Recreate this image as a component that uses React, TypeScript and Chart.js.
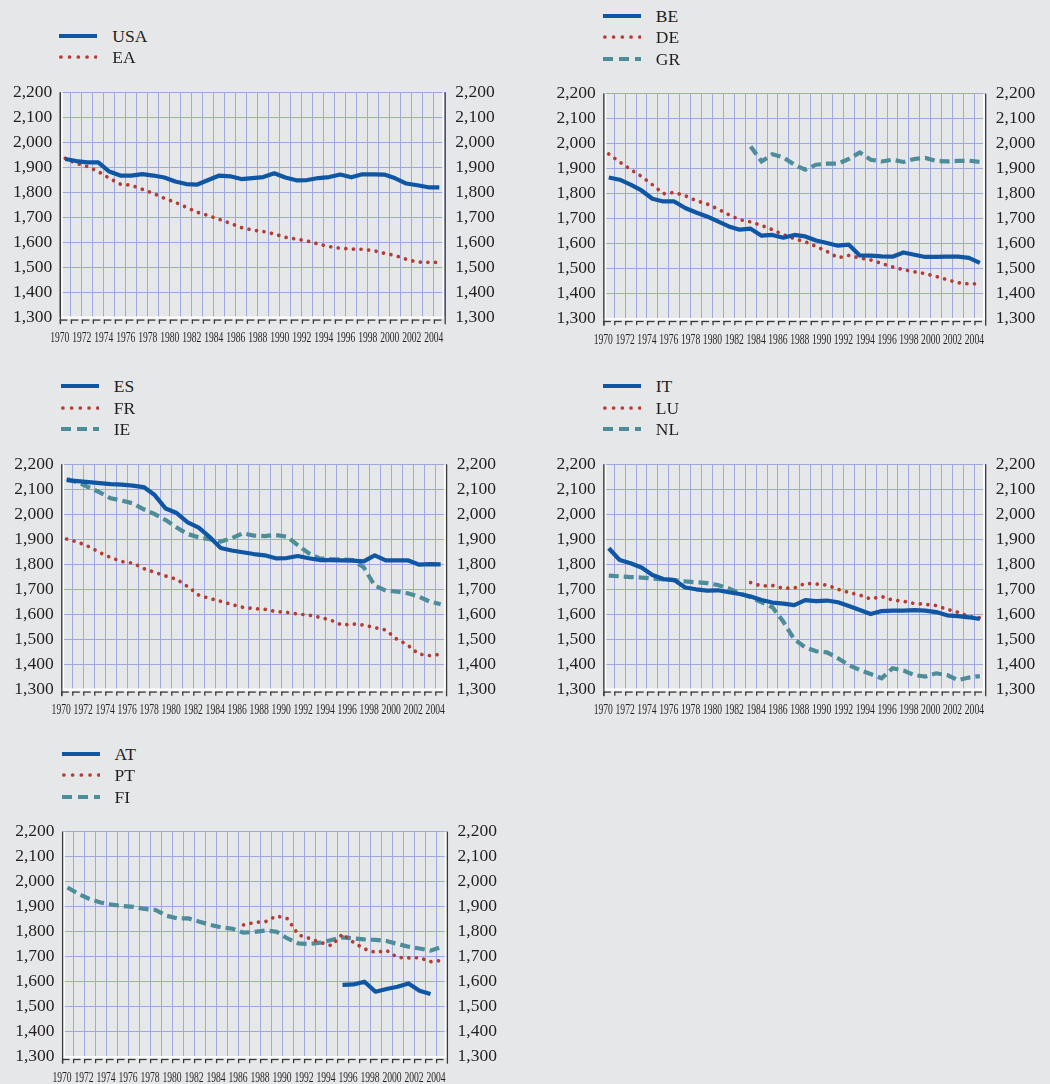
import React, { useEffect, useRef } from 'react';
import { Chart, registerables } from 'chart.js';

Chart.register(...registerables);

// ---------- data ----------
const YEARS = [
  '1970', '1971', '1972', '1973', '1974', '1975', '1976', '1977', '1978', '1979',
  '1980', '1981', '1982', '1983', '1984', '1985', '1986', '1987', '1988', '1989',
  '1990', '1991', '1992', '1993', '1994', '1995', '1996', '1997', '1998', '1999',
  '2000', '2001', '2002', '2003', '2004',
];
const X_TICK_LABELS = [
  '1970', '1972', '1974', '1976', '1978', '1980', '1982', '1984', '1986',
  '1988', '1990', '1992', '1994', '1996', '1998', '2000', '2002', '2004',
];
const Y_MIN = 1300;
const Y_MAX = 2200;
const Y_STEP = 100;

const USA = [1933, 1925, 1920, 1920, 1883, 1867, 1867, 1873, 1867, 1859, 1843, 1833, 1831, 1849, 1867, 1864, 1853, 1857, 1861, 1876, 1859, 1848, 1849, 1857, 1861, 1871, 1860, 1872, 1872, 1871, 1856, 1835, 1828, 1820, 1820];
const EA = [1936, 1916, 1903, 1883, 1856, 1833, 1828, 1812, 1796, 1776, 1760, 1740, 1720, 1707, 1692, 1676, 1659, 1649, 1643, 1633, 1620, 1613, 1605, 1593, 1583, 1576, 1573, 1572, 1567, 1556, 1547, 1532, 1521, 1520, 1520];

const BE = [1865, 1856, 1836, 1813, 1780, 1769, 1769, 1743, 1725, 1709, 1689, 1669, 1656, 1660, 1632, 1635, 1624, 1635, 1629, 1613, 1603, 1592, 1596, 1553, 1552, 1549, 1548, 1565, 1556, 1547, 1547, 1548, 1548, 1543, 1523];
const DE = [1959, 1927, 1897, 1869, 1836, 1800, 1805, 1792, 1772, 1759, 1739, 1716, 1696, 1687, 1673, 1656, 1636, 1620, 1608, 1589, 1569, 1544, 1553, 1543, 1535, 1521, 1507, 1496, 1488, 1480, 1469, 1456, 1444, 1439, 1440];
const GR = [null, null, null, null, null, null, null, null, null, null, null, null, null, 1989, 1929, 1958, 1945, 1916, 1896, 1916, 1920, 1920, 1939, 1965, 1936, 1929, 1936, 1927, 1939, 1943, 1931, 1929, 1931, 1932, 1927];

const ES = [2137, 2133, 2129, 2125, 2121, 2119, 2115, 2109, 2077, 2023, 2005, 1968, 1947, 1909, 1865, 1855, 1848, 1841, 1836, 1824, 1825, 1833, 1824, 1817, 1817, 1816, 1815, 1812, 1836, 1816, 1816, 1816, 1799, 1801, 1800];
const FR = [1901, 1889, 1871, 1847, 1827, 1811, 1805, 1783, 1768, 1753, 1740, 1711, 1677, 1663, 1652, 1639, 1628, 1623, 1620, 1611, 1608, 1601, 1597, 1588, 1577, 1557, 1561, 1557, 1547, 1537, 1501, 1477, 1441, 1435, 1440];
const IE = [2141, 2127, 2108, 2088, 2064, 2055, 2044, 2020, 2001, 1977, 1947, 1921, 1908, 1900, 1891, 1904, 1924, 1915, 1913, 1917, 1911, 1877, 1844, 1824, 1821, 1820, 1817, 1788, 1715, 1695, 1691, 1684, 1671, 1651, 1640];

const IT = [1864, 1817, 1804, 1787, 1757, 1741, 1737, 1707, 1700, 1695, 1696, 1688, 1681, 1671, 1657, 1647, 1643, 1637, 1657, 1653, 1655, 1648, 1633, 1617, 1601, 1613, 1615, 1615, 1617, 1615, 1609, 1596, 1593, 1588, 1581];
const LU = [null, null, null, null, null, null, null, null, null, null, null, null, null, 1727, 1713, 1715, 1704, 1705, 1724, 1721, 1717, 1700, 1687, 1677, 1661, 1671, 1657, 1652, 1643, 1640, 1635, 1620, 1608, 1591, 1586];
const NL = [1755, 1752, 1749, 1747, 1743, 1740, 1737, 1732, 1728, 1725, 1717, 1703, 1684, 1668, 1648, 1628, 1570, 1500, 1468, 1452, 1448, 1424, 1397, 1377, 1361, 1344, 1384, 1375, 1357, 1351, 1364, 1357, 1337, 1347, 1353];

const AT = [null, null, null, null, null, null, null, null, null, null, null, null, null, null, null, null, null, null, null, null, null, null, null, null, null, 1587, 1589, 1600, 1560, 1571, 1580, 1593, 1564, 1551, null];
const PT = [null, null, null, null, null, null, null, null, null, null, null, null, null, null, null, null, 1827, 1837, 1840, 1863, 1852, 1787, 1773, 1757, 1744, 1791, 1757, 1731, 1717, 1725, 1697, 1695, 1696, 1680, 1685];
const FI = [1977, 1951, 1931, 1917, 1908, 1903, 1899, 1891, 1887, 1864, 1853, 1853, 1840, 1827, 1817, 1812, 1796, 1799, 1805, 1800, 1773, 1753, 1751, 1756, 1767, 1777, 1773, 1769, 1767, 1763, 1751, 1740, 1733, 1724, 1739];

// ---------- styles ----------
const BG = '#e6e7e8';
const GRID = '#9ea9dd';
const TEXT = '#231f20';
const BLUE = '#0f56a4';
const RED = '#b33c36';
const TEAL = '#4d8d9a';
const FRAME = '#3a3a3a';
const FONT = '"Liberation Serif", "Times New Roman", serif';

type LineStyle = 'solid' | 'dot' | 'dash';
interface Series { label: string; data: (number | null)[]; style: LineStyle }
interface PanelDef {
  colLeft: number; plotLeft: number; plotRight: number; plotTop: number; plotBottom: number;
  series: Series[];
}

const PANELS: PanelDef[] = [
  { colLeft: 0, plotLeft: 59.8, plotRight: 444.8, plotTop: 92.3, plotBottom: 317.3,
    series: [{ label: 'USA', data: USA, style: 'solid' }, { label: 'EA', data: EA, style: 'dot' }] },
  { colLeft: 525, plotLeft: 603.3, plotRight: 985.3, plotTop: 93.7, plotBottom: 318.7,
    series: [{ label: 'BE', data: BE, style: 'solid' }, { label: 'DE', data: DE, style: 'dot' }, { label: 'GR', data: GR, style: 'dash' }] },
  { colLeft: 0, plotLeft: 61.2, plotRight: 446.2, plotTop: 464.3, plotBottom: 689.3,
    series: [{ label: 'ES', data: ES, style: 'solid' }, { label: 'FR', data: FR, style: 'dot' }, { label: 'IE', data: IE, style: 'dash' }] },
  { colLeft: 525, plotLeft: 603.3, plotRight: 985.3, plotTop: 464.3, plotBottom: 689.3,
    series: [{ label: 'IT', data: IT, style: 'solid' }, { label: 'LU', data: LU, style: 'dot' }, { label: 'NL', data: NL, style: 'dash' }] },
  { colLeft: 0, plotLeft: 62, plotRight: 447, plotTop: 831.7, plotBottom: 1056.7,
    series: [{ label: 'AT', data: AT, style: 'solid' }, { label: 'PT', data: PT, style: 'dot' }, { label: 'FI', data: FI, style: 'dash' }] },
];

function styleProps(s: LineStyle) {
  if (s === 'solid') return { borderColor: BLUE, borderWidth: 4.2, borderJoinStyle: 'round', borderCapStyle: 'butt' };
  if (s === 'dot') return { borderColor: RED, borderWidth: 3.7, borderDash: [0.01, 7.6], borderCapStyle: 'round' };
  return { borderColor: TEAL, borderWidth: 4.2, borderDash: [10, 5], borderCapStyle: 'butt' };
}

const framePlugin = {
  id: 'frame',
  beforeDatasetsDraw(chart: any) {
    const { ctx, chartArea } = chart;
    const { left, right, top, bottom } = chartArea;
    const xs = chart.scales.x;
    const step = xs.getPixelForValue(1) - xs.getPixelForValue(0);
    const line = (x1: number, y1: number, x2: number, y2: number) => {
      ctx.beginPath(); ctx.moveTo(x1, y1); ctx.lineTo(x2, y2); ctx.stroke();
    };
    ctx.save();
    ctx.strokeStyle = '#ffffff';
    ctx.lineWidth = 1.8;
    line(left + 2, top, left + 2, bottom);
    line(right - 1.4, top, right - 1.4, bottom);
    line(left, bottom + 0.2, right, bottom + 0.2);
    ctx.strokeStyle = FRAME;
    ctx.lineWidth = 1.3;
    line(left + 0.6, top, left + 0.6, bottom + 7);
    line(right + 0.4, top, right + 0.4, bottom + 7);
    for (let k = 0; k < YEARS.length; k++) {
      const x = left + k * step;
      line(x + 0.6, bottom + 2.4, x + 0.6, bottom + 6.5);
      line(x, bottom + 2.8, x + 7.6, bottom + 2.8);
    }
    ctx.restore();
  },
  afterDraw(chart: any) {
    const { ctx, chartArea } = chart;
    const xs = chart.scales.x;
    const step = xs.getPixelForValue(1) - xs.getPixelForValue(0);
    ctx.save();
    ctx.fillStyle = TEXT;
    ctx.font = `15.5px ${FONT}`;
    ctx.textAlign = 'center';
    ctx.textBaseline = 'middle';
    X_TICK_LABELS.forEach((lbl) => {
      const i = YEARS.indexOf(lbl);
      const x = xs.getPixelForValue(i) - step / 2;
      ctx.save();
      ctx.translate(x, chartArea.bottom + 21);
      ctx.scale(0.62, 1);
      ctx.fillText(lbl, 0, 0);
      ctx.restore();
    });
    ctx.restore();
  },
};

const fmt = (v: any) => Number(v).toLocaleString('en-US');

function LegendSample({ style }: { style: LineStyle }) {
  if (style === 'solid') {
    return <svg width={38} height={8}><line x1={0} y1={4} x2={38} y2={4} stroke={BLUE} strokeWidth={4.2} /></svg>;
  }
  if (style === 'dot') {
    return <svg width={38} height={8}><line x1={1.9} y1={4} x2={38} y2={4} stroke={RED} strokeWidth={3.7} strokeDasharray="0.01 8.7" strokeLinecap="round" /></svg>;
  }
  return <svg width={38} height={8}><line x1={0} y1={4} x2={38} y2={4} stroke={TEAL} strokeWidth={4.2} strokeDasharray="10 6" /></svg>;
}

function Panel({ def }: { def: PanelDef }) {
  const ref = useRef<HTMLCanvasElement>(null);
  const canvasTop = Math.floor(def.plotTop - 26);
  const padTop = def.plotTop - canvasTop;
  const plotH = def.plotBottom - def.plotTop;
  const cw = 525;
  const ch = Math.round(padTop + plotH + 40);
  const xAxisH = ch - padTop - plotH;

  useEffect(() => {
    const chart = new Chart(ref.current as HTMLCanvasElement, {
      type: 'line',
      data: {
        labels: YEARS,
        datasets: def.series.map((s) => ({ label: s.label, data: s.data, pointRadius: 0, tension: 0, ...(styleProps(s.style) as any) })),
      },
      options: {
        responsive: false,
        animation: false,
        devicePixelRatio: 1,
        layout: { padding: { top: padTop, left: 0, right: 0, bottom: 0 } },
        plugins: { legend: { display: false }, tooltip: { enabled: false } },
        scales: {
          x: {
            type: 'category',
            offset: true,
            grid: { offset: true, color: GRID, lineWidth: 1, drawTicks: false },
            border: { display: false },
            ticks: { display: false },
            afterFit: (s: any) => { s.height = xAxisH; },
          },
          y: {
            position: 'left',
            min: Y_MIN, max: Y_MAX,
            grid: { color: GRID, lineWidth: 1, drawTicks: false },
            border: { display: false },
            ticks: { stepSize: Y_STEP, padding: 7.5, color: TEXT, font: { family: FONT, size: 17.5 }, callback: fmt, autoSkip: false },
            afterFit: (s: any) => { s.width = def.plotLeft - def.colLeft; },
          },
          y2: {
            position: 'right',
            min: Y_MIN, max: Y_MAX,
            grid: { display: false, drawTicks: false },
            border: { display: false },
            ticks: { stepSize: Y_STEP, padding: 10.5, color: TEXT, font: { family: FONT, size: 17.5 }, callback: fmt, autoSkip: false },
            afterFit: (s: any) => { s.width = def.colLeft + cw - def.plotRight; },
          },
        },
      } as any,
      plugins: [framePlugin],
    });
    return () => chart.destroy();
  }, []);

  const n = def.series.length;
  const lastCenter = def.plotTop - 35;
  const sampleLeft = def.plotLeft - 0.5;

  return (
    <>
      <canvas
        ref={ref}
        width={cw}
        height={ch}
        style={{ position: 'absolute', left: def.colLeft, top: canvasTop, width: cw, height: ch }}
      />
      {def.series.map((s, i) => {
        const cy = lastCenter - (n - 1 - i) * 21.5;
        return (
          <div key={s.label} style={{ position: 'absolute', left: sampleLeft, top: cy - 10, height: 20, display: 'flex', alignItems: 'center' }}>
            <LegendSample style={s.style} />
            <span style={{ marginLeft: 15, fontFamily: FONT, fontSize: 17.5, lineHeight: '20px', color: TEXT }}>{s.label}</span>
          </div>
        );
      })}
    </>
  );
}

export default function App() {
  return (
    <div style={{ position: 'absolute', left: 0, top: 0, width: 1050, height: 1084, background: BG, overflow: 'hidden' }}>
      {PANELS.map((p, i) => <Panel key={i} def={p} />)}
    </div>
  );
}
